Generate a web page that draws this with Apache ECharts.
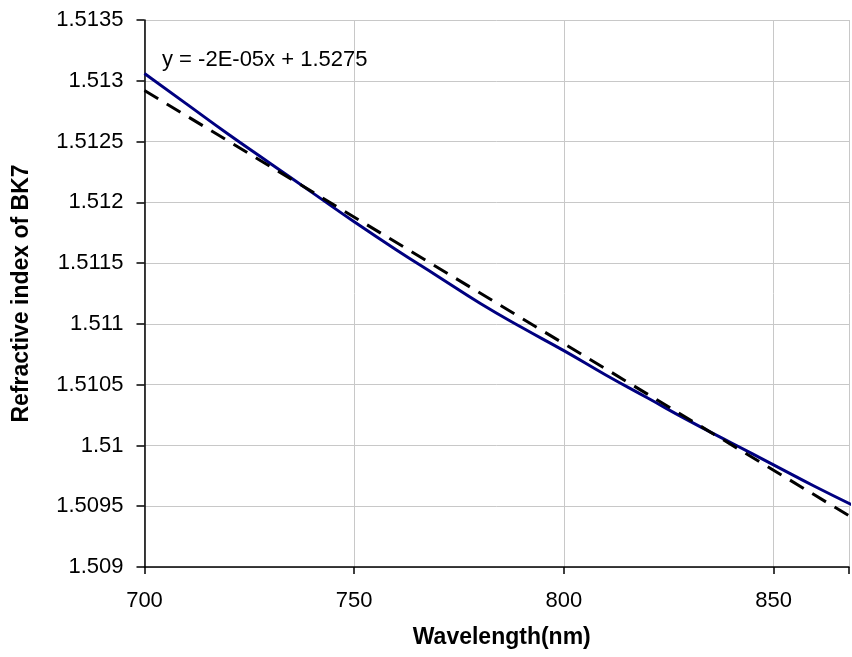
<!DOCTYPE html>
<html>
<head>
<meta charset="utf-8">
<script src="https://cdn.jsdelivr.net/npm/echarts@6/dist/echarts.min.js"></script>
<style>html,body{margin:0;padding:0;background:#fff}#c{width:852px;height:657px}</style>
</head>
<body>
<div id="c"></div>
<script>
var wavelengths = [700, 710, 720, 730, 740, 750, 760, 770, 780, 790, 800, 810, 820, 830, 840, 850, 860, 870];
var refractiveIndex = [1.51306, 1.51281, 1.51256, 1.51232, 1.51208, 1.51184, 1.51161, 1.51139, 1.51117, 1.51097, 1.51078, 1.51058, 1.51039, 1.51020, 1.51002, 1.50984, 1.50966, 1.50949];
var trendX = [700, 870];
var trendY = [1.51292, 1.50938];
var equationText = 'y = -2E-05x + 1.5275';
var xTitle = 'Wavelength(nm)';
var yTitle = 'Refractive index of BK7';

var chart = echarts.init(document.getElementById('c'), null, {renderer: 'canvas'});
var font = '"Liberation Sans", Arial, sans-serif';
chart.setOption({
  animation: false,
  backgroundColor: '#fff',
  grid: {left: 144.5, right: 0, top: 20, bottom: 90, containLabel: false},
  xAxis: {
    type: 'value', min: 700, max: 868, interval: 50,
    name: xTitle, nameLocation: 'middle', nameGap: 59,
    nameTextStyle: {fontFamily: font, fontSize: 23, fontWeight: 'bold', color: '#000', padding: [0, 0, 0, 10]},
    axisLine: {show: true, onZero: false, lineStyle: {color: '#000', width: 1.5}},
    axisTick: {show: true, length: 7, lineStyle: {color: '#000', width: 1.5}},
    axisLabel: {fontFamily: font, fontSize: 22, color: '#000', margin: 23,
      formatter: function (v) { return (Math.round(v) % 50 === 0) ? String(Math.round(v)) : ''; }},
    splitLine: {show: true, lineStyle: {color: '#c8c8c8', width: 1}}
  },
  yAxis: {
    type: 'value', min: 1.509, max: 1.5135, interval: 0.0005,
    name: yTitle, nameLocation: 'middle', nameGap: 111, nameRotate: 90,
    nameTextStyle: {fontFamily: font, fontSize: 23, fontWeight: 'bold', color: '#000'},
    axisLine: {show: true, onZero: false, lineStyle: {color: '#000', width: 1.5}},
    axisTick: {show: true, length: 8, lineStyle: {color: '#000', width: 1.5}},
    axisLabel: {fontFamily: font, fontSize: 22, color: '#000', margin: 21,
      formatter: function (v) { return String(parseFloat(v.toFixed(4))); }},
    splitLine: {show: true, lineStyle: {color: '#c8c8c8', width: 1}}
  },
  series: [
    {
      type: 'line', showSymbol: false, smooth: true,
      data: wavelengths.map(function (x, i) { return [x, refractiveIndex[i]]; }),
      lineStyle: {color: '#000080', width: 3},
      z: 2
    },
    {
      type: 'line', showSymbol: false,
      data: trendX.map(function (x, i) { return [x, trendY[i]]; }),
      lineStyle: {color: '#000', width: 3, type: [16, 10]},
      z: 3
    }
  ],
  graphic: [
    {type: 'text', left: 162, top: 49, style: {text: equationText, font: '22px ' + font, fill: '#000'}}
  ]
});
</script>
</body>
</html>
